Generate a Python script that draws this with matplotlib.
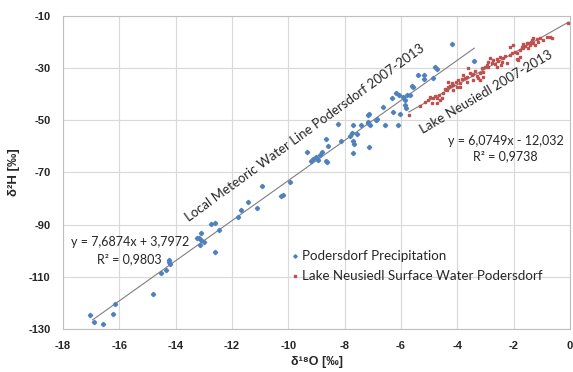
import numpy as np
import matplotlib
matplotlib.use("Agg")
import matplotlib.pyplot as plt

plt.rcParams['font.family'] = ['Lato', 'DejaVu Sans']

# Podersdorf precipitation (d18O, d2H)
precip_o18 = [-17.06, -16.90, -16.59, -16.15, -16.21, -14.79, -14.53, -14.35, -14.22, -14.22,
              -14.20, -13.25, -13.16, -13.10, -13.09, -13.14, -12.98, -12.76, -12.60, -12.60,
              -12.45, -11.80, -11.69, -11.42, -11.12, -10.92, -10.26, -10.18, -9.94, -9.33,
              -9.20, -9.11, -9.03, -8.96, -8.88, -8.79, -8.66, -8.66, -8.58, -8.23,
              -8.13, -7.81, -7.75, -7.69, -7.66, -7.58, -7.69, -7.69, -7.42, -7.16,
              -7.12, -7.10, -7.12, -6.89, -4.20, -3.40, -4.79, -4.73, -5.39, -5.19,
              -5.19, -4.85, -5.62, -5.56, -6.33, -6.18, -6.06, -5.92, -5.86, -5.80,
              -5.68, -6.63, -6.27, -6.04, -5.86, -5.82, -6.10, -6.57, -7.16, -7.16,
              -6.86, -8.64]
precip_h2 = [-124.8, -127.5, -128.2, -120.6, -124.4, -116.7, -108.5, -107.5, -103.4, -104.3,
             -104.9, -95.0, -95.0, -95.7, -93.2, -97.9, -96.6, -89.6, -89.3, -100.5,
             -92.2, -87.0, -84.2, -81.5, -83.8, -75.3, -79.1, -78.8, -73.6, -62.1,
             -65.7, -64.9, -64.0, -65.3, -63.4, -62.1, -65.7, -57.3, -59.8, -51.5,
             -57.9, -55.9, -55.0, -58.0, -58.9, -55.3, -62.5, -51.6, -51.6, -51.2,
             -47.7, -51.8, -60.2, -49.7, -20.9, -27.1, -29.5, -30.5, -32.6, -32.6,
             -34.3, -33.9, -36.9, -37.4, -41.6, -39.7, -40.3, -41.0, -42.2, -40.3,
             -40.3, -44.8, -46.7, -47.4, -44.2, -45.4, -51.8, -51.8, -48.0, -50.6,
             -49.3, -65.9]

# Lake Neusiedl surface water (d18O, d2H)
lake_o18 = [-5.72, -5.33, -5.15, -5.03, -4.97, -4.88, -4.80, -4.74, -4.64, -4.56,
            -4.50, -4.44, -4.38, -4.32, -4.26, -4.32, -4.20, -4.14, -4.06, -4.02,
            -3.97, -3.91, -3.85, -3.81, -3.73, -3.67, -3.65, -3.55, -3.49, -3.43,
            -3.37, -3.31, -3.26, -3.20, -3.14, -3.10, -3.02, -2.96, -2.90, -2.84,
            -2.78, -2.72, -2.66, -2.59, -2.55, -2.49, -2.46, -2.43, -2.37, -2.31,
            -2.25, -2.13, -2.07, -2.01, -1.95, -1.89, -1.87, -1.84, -1.78, -1.72,
            -1.68, -1.66, -1.60, -1.54, -1.48, -1.42, -1.40, -1.36, -1.30, -1.24,
            -1.19, -1.13, -1.07, -0.95, -0.83, -0.71, -0.65, -0.06, -4.74, -4.91,
            -4.62, -4.14, -3.91, -3.43, -3.08, -3.61, -2.13, -2.59, -3.20, -2.90,
            -1.78, -1.48, -1.30]
lake_h2 = [-48.0, -44.5, -42.9, -42.2, -41.0, -41.3, -40.6, -41.6, -40.1, -41.6,
           -39.4, -37.8, -38.4, -37.1, -36.9, -35.2, -35.8, -36.5, -35.2, -37.1,
           -34.6, -35.6, -34.3, -32.6, -33.9, -33.3, -35.2, -31.8, -32.6, -32.3,
           -31.0, -33.0, -33.9, -32.0, -30.1, -31.4, -29.4, -28.8, -27.5, -26.2,
           -28.2, -26.9, -28.4, -26.6, -27.2, -25.9, -28.8, -27.5, -26.2, -25.4,
           -28.2, -25.0, -24.1, -21.1, -23.7, -24.3, -26.6, -26.9, -23.0, -21.8,
           -20.7, -22.4, -21.5, -20.5, -20.2, -21.1, -19.8, -19.2, -20.5, -21.1,
           -19.0, -19.8, -18.6, -19.2, -17.9, -18.2, -18.6, -12.6, -43.5, -43.5,
           -42.2, -38.4, -37.1, -34.6, -33.5, -30.1, -21.8, -29.4, -34.6, -29.4,
           -25.6, -22.4, -18.6]

# regression lines shown in the chart
lmwl_slope, lmwl_icpt = 7.6874, 3.7972
lake_slope, lake_icpt = 6.0749, -12.032
lmwl_range = [-16.95, -3.40]
lake_range = [-5.72, -0.05]

blue = "#4F81BD"
red = "#C0504D"
txt = "#262626"
bold_font = ['Liberation Sans', 'DejaVu Sans']

fig = plt.figure(figsize=(5.73, 3.72), dpi=100)
ax = fig.add_axes([0.110, 0.1156, 0.8848, 0.8414])

ax.plot(precip_o18, precip_h2, ls="none", marker="D", ms=2.2, color=blue,
        label="Podersdorf Precipitation", zorder=3)
ax.plot(lake_o18, lake_h2, ls="none", marker="s", ms=1.9, color=red,
        label="Lake Neusiedl Surface Water Podersdorf", zorder=3)

xl = np.array(lmwl_range)
ax.plot(xl, lmwl_slope * xl + lmwl_icpt, color="#7F7F7F", lw=0.8, zorder=2)
xk = np.array(lake_range)
ax.plot(xk, lake_slope * xk + lake_icpt, color="#7F7F7F", lw=0.8, zorder=2)

ax.set_xlim(-18, 0)
ax.set_ylim(-130, -10)
ax.set_xticks(np.arange(-18, 1, 2))
ax.set_yticks(np.arange(-130, -9, 20))
ax.grid(True, color="#D9D9D9", lw=0.8)
ax.set_axisbelow(True)
for s in ax.spines.values():
    s.set_color("#BFBFBF")
    s.set_linewidth(0.8)
ax.tick_params(length=0, pad=9, labelcolor=txt)
ax.set_xticklabels([f"{v:g}" for v in ax.get_xticks()], fontsize=8,
                   fontweight="bold", family=bold_font)
ax.set_yticklabels([f"{v:g}" for v in ax.get_yticks()], fontsize=8,
                   fontweight="bold", family=bold_font)

ax.set_xlabel("δ¹⁸O [‰]", fontsize=9, fontweight="bold", color=txt, labelpad=3,
              family=bold_font)
ax.set_ylabel("δ²H [‰]", fontsize=9.5, fontweight="bold", color=txt, labelpad=6,
              family=bold_font)

ax.text(-9.41, -54.7, "Local Meteoric Water Line Podersdorf 2007-2013", rotation=36,
        ha="center", va="center", fontsize=9.5, color=txt, rotation_mode="anchor")
ax.text(-2.98, -39.2, "Lake Neusiedl 2007-2013", rotation=30.5,
        ha="center", va="center", fontsize=9.5, color=txt, rotation_mode="anchor")

ax.text(-15.63, -96.6, "y = 7,6874x + 3,7972", ha="center", va="center", fontsize=9, color=txt)
ax.text(-15.63, -103.4, "R² = 0,9803", ha="center", va="center", fontsize=9, color=txt)
ax.text(-2.28, -57.9, "y = 6,0749x - 12,032", ha="center", va="center", fontsize=9, color=txt)
ax.text(-2.28, -63.7, "R² = 0,9738", ha="center", va="center", fontsize=9, color=txt)

leg = ax.legend(loc="upper left", bbox_to_anchor=(0.44, 0.268), frameon=False,
                fontsize=9.6, handlelength=0.5, handletextpad=0.3, labelspacing=0.6,
                markerscale=0.8, borderaxespad=0)
for t in leg.get_texts():
    t.set_color(txt)

fig.savefig("out.png", dpi=100)
